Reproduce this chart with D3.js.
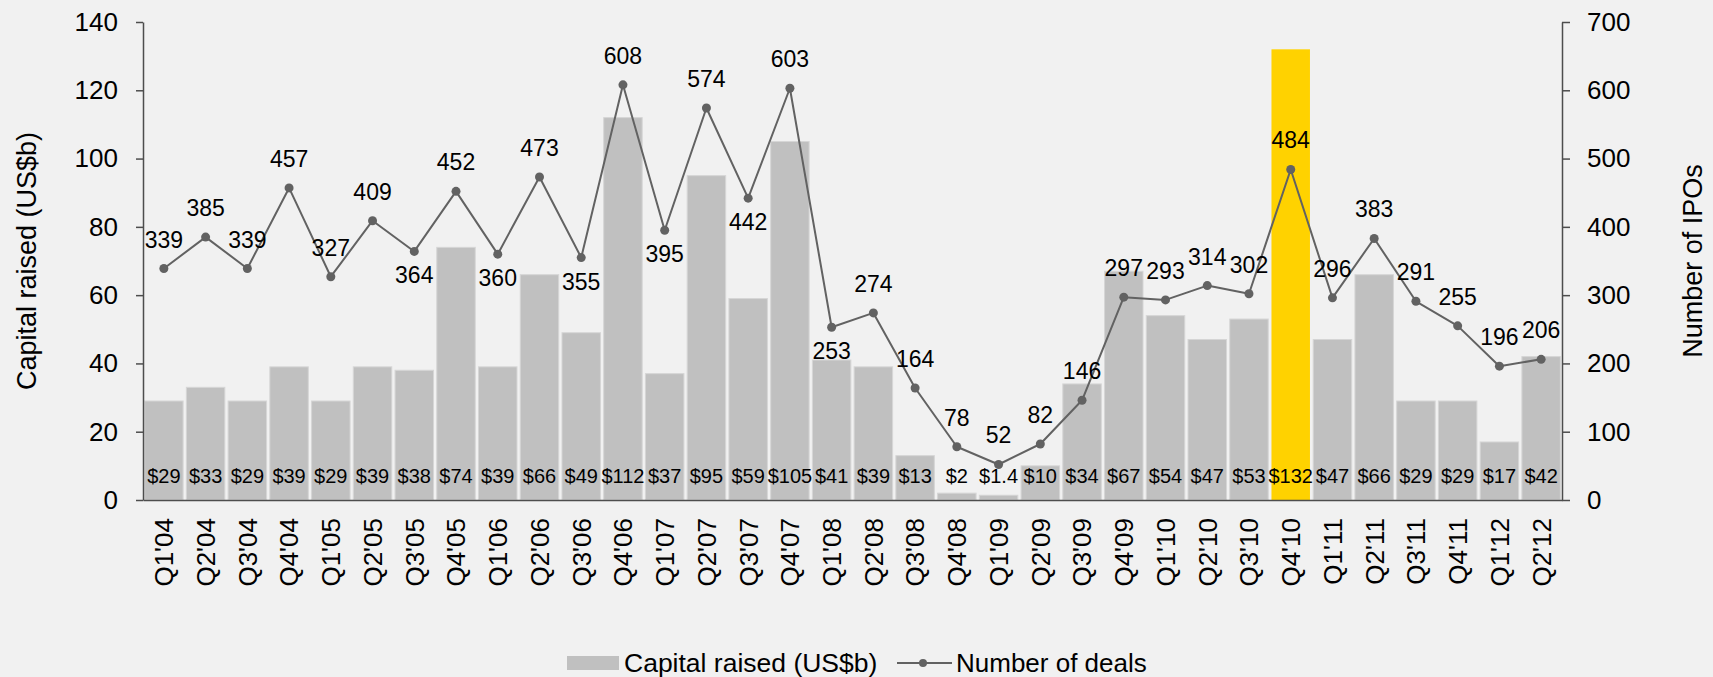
<!DOCTYPE html>
<html>
<head>
<meta charset="utf-8">
<script src="https://cdn.jsdelivr.net/npm/d3@7"></script>
<style>
  html, body { margin: 0; padding: 0; background: #f1f1f1; }
  svg { display: block; font-family: "Liberation Sans", Arial, sans-serif; }
  .axis path, .axis line { stroke: #4d4d4d; stroke-width: 1.5; }
  .axis text { fill: #000; font-size: 26px; }
</style>
</head>
<body>
<div id="chart"></div>
<script>
// quarters on the x axis
var quarters = ["Q1'04", "Q2'04", "Q3'04", "Q4'04", "Q1'05", "Q2'05", "Q3'05", "Q4'05",
    "Q1'06", "Q2'06", "Q3'06", "Q4'06", "Q1'07", "Q2'07", "Q3'07", "Q4'07",
    "Q1'08", "Q2'08", "Q3'08", "Q4'08", "Q1'09", "Q2'09", "Q3'09", "Q4'09",
    "Q1'10", "Q2'10", "Q3'10", "Q4'10", "Q1'11", "Q2'11", "Q3'11", "Q4'11",
    "Q1'12", "Q2'12"];

// capital raised, US$b (bars)
var capital = [29, 33, 29, 39, 29, 39, 38, 74, 39, 66, 49, 112, 37, 95, 59, 105,
    41, 39, 13, 2, 1.4, 10, 34, 67, 54, 47, 53, 132, 47, 66, 29, 29, 17, 42];

// number of deals (line)
var deals = [339, 385, 339, 457, 327, 409, 364, 452, 360, 473, 355, 608, 395, 574, 442, 603,
    253, 274, 164, 78, 52, 82, 146, 297, 293, 314, 302, 484, 296, 383, 291, 255, 196, 206];

var leftTicks = [0, 20, 40, 60, 80, 100, 120, 140];
var rightTicks = [0, 100, 200, 300, 400, 500, 600, 700];

// quarters that get highlighted, and ones whose deal label sits under the point
var highlight = ["Q4'10"];
var labelBelow = ["Q3'05", "Q1'06", "Q3'06", "Q1'07", "Q3'07", "Q1'08"];

var width = 1713,
    height = 677,
    margin = { left: 143, right: 151, top: 22, bottom: 177 };

var chartWidth = width - margin.left - margin.right;
var chartHeight = height - margin.top - margin.bottom;

var rows = quarters.map(function (q, i) {
    return { q: q, cap: capital[i], deals: deals[i] };
});

var svg = d3.select('#chart').append('svg')
    .attr('width', width)
    .attr('height', height);

svg.append('rect')
    .attr('width', width)
    .attr('height', height)
    .attr('fill', '#f1f1f1');

var g = svg.append('g')
    .attr('transform', 'translate(' + margin.left + ',' + margin.top + ')');

var xScale = d3.scaleBand()
    .domain(quarters)
    .range([0, chartWidth])
    .paddingInner(0.078)
    .paddingOuter(0.039);

var yLeft = d3.scaleLinear().domain([0, 140]).range([chartHeight, 0]);
var yRight = d3.scaleLinear().domain([0, 700]).range([chartHeight, 0]);

// bars
g.selectAll('.bar')
    .data(rows)
    .enter().append('rect')
    .attr('class', 'bar')
    .attr('x', function (d) { return xScale(d.q); })
    .attr('width', xScale.bandwidth())
    .attr('y', function (d) { return yLeft(d.cap); })
    .attr('height', function (d) { return chartHeight - yLeft(d.cap); })
    .attr('fill', function (d) { return highlight.indexOf(d.q) >= 0 ? '#ffd200' : '#c0c0c0'; })
    .attr('stroke', function (d) { return highlight.indexOf(d.q) >= 0 ? 'none' : '#d6d6d6'; })
    .attr('stroke-width', 1);

// bar value labels near the bottom
g.selectAll('.bar-label')
    .data(rows)
    .enter().append('text')
    .attr('class', 'bar-label')
    .attr('x', function (d) { return xScale(d.q) + xScale.bandwidth() / 2; })
    .attr('y', yLeft(0) - 17)
    .attr('text-anchor', 'middle')
    .attr('font-size', 20)
    .attr('fill', '#000')
    .text(function (d) { return '$' + d.cap; });

// axes
var xAxis = d3.axisBottom(xScale).tickSize(0).tickSizeOuter(0);
var gx = g.append('g')
    .attr('class', 'axis x')
    .attr('transform', 'translate(0,' + chartHeight + ')')
    .call(xAxis);
gx.selectAll('text')
    .attr('transform', 'rotate(-90)')
    .attr('x', -18)
    .attr('y', 0)
    .attr('dy', '0.36em')
    .attr('text-anchor', 'end')
    .attr('font-size', 26);

var gl = g.append('g')
    .attr('class', 'axis y')
    .call(d3.axisLeft(yLeft).tickValues(leftTicks).tickSize(7).tickSizeOuter(0).tickPadding(18));

var gr = g.append('g')
    .attr('class', 'axis y2')
    .attr('transform', 'translate(' + chartWidth + ',0)')
    .call(d3.axisRight(yRight).tickValues(rightTicks).tickSize(8).tickSizeOuter(0).tickPadding(17));

svg.selectAll('.axis text').attr('font-family', '"Liberation Sans", Arial, sans-serif');

// line for number of deals
var line = d3.line()
    .x(function (d) { return xScale(d.q) + xScale.bandwidth() / 2; })
    .y(function (d) { return yRight(d.deals); });

g.append('path')
    .datum(rows)
    .attr('fill', 'none')
    .attr('stroke', '#626262')
    .attr('stroke-width', 2)
    .attr('stroke-linejoin', 'round')
    .attr('d', line);

g.selectAll('.dot')
    .data(rows)
    .enter().append('circle')
    .attr('class', 'dot')
    .attr('cx', function (d) { return xScale(d.q) + xScale.bandwidth() / 2; })
    .attr('cy', function (d) { return yRight(d.deals); })
    .attr('r', 4.5)
    .attr('fill', '#626262');

g.selectAll('.deal-label')
    .data(rows)
    .enter().append('text')
    .attr('class', 'deal-label')
    .attr('x', function (d) { return xScale(d.q) + xScale.bandwidth() / 2; })
    .attr('y', function (d) {
        return labelBelow.indexOf(d.q) >= 0 ? yRight(d.deals) + 32 : yRight(d.deals) - 21;
    })
    .attr('text-anchor', 'middle')
    .attr('font-size', 23)
    .attr('fill', '#000')
    .text(function (d) { return d.deals; });

// axis titles
svg.append('text')
    .attr('transform', 'translate(36,' + (margin.top + chartHeight / 2) + ') rotate(-90)')
    .attr('text-anchor', 'middle')
    .attr('font-size', 27)
    .text('Capital raised (US$b)');

svg.append('text')
    .attr('transform', 'translate(1702,' + (margin.top + chartHeight / 2) + ') rotate(-90)')
    .attr('text-anchor', 'middle')
    .attr('font-size', 27)
    .text('Number of IPOs');

// legend
var legend = svg.append('g').attr('transform', 'translate(567,663)');
legend.append('rect')
    .attr('x', 0).attr('y', -7)
    .attr('width', 52).attr('height', 14)
    .attr('fill', '#c0c0c0');
legend.append('text')
    .attr('x', 57).attr('y', 9)
    .attr('font-size', 26.5)
    .text('Capital raised (US$b)');
legend.append('line')
    .attr('x1', 330).attr('x2', 385)
    .attr('y1', 0).attr('y2', 0)
    .attr('stroke', '#626262').attr('stroke-width', 2);
legend.append('circle')
    .attr('cx', 356).attr('cy', 0).attr('r', 4)
    .attr('fill', '#626262');
legend.append('text')
    .attr('x', 389).attr('y', 9)
    .attr('font-size', 26)
    .text('Number of deals');
</script>
</body>
</html>
